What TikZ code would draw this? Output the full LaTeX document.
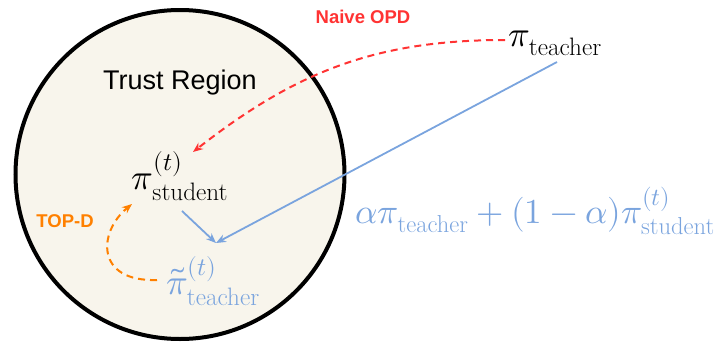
\documentclass[tikz,border=0pt]{standalone}
\usepackage{fontspec}
\usepackage{amsmath}
\usepackage{unicode-math}
\setmathfont{Latin Modern Math}
\setsansfont{Liberation Sans}
\usetikzlibrary{arrows.meta}
\definecolor{regionfill}{RGB}{248,245,236}
\definecolor{naivered}{RGB}{255,51,51}
\definecolor{topdorange}{RGB}{255,128,0}
\definecolor{mixblue}{RGB}{122,164,222}
\tikzset{
  region/.style={draw=black, line width=4pt, fill=regionfill},
  mathlbl/.style={inner sep=0pt, font=\fontsize{36}{42}\selectfont},
  boldlbl/.style={inner sep=0pt, font=\sffamily\bfseries\fontsize{18.5}{22}\selectfont},
  tip/.style={-{Stealth[length=10pt,width=8pt]}},
  dashedarrow/.style={tip, line width=2pt, dash pattern=on 7pt off 5pt},
  solidarrow/.style={tip, line width=1.8pt, draw=mixblue},
}
\begin{document}
\begin{tikzpicture}[x=1pt, y=-1pt]
\useasboundingbox (0,0) rectangle (715,343);
\draw[region] (180,174.5) circle[radius=164.5];
\node[inner sep=0pt, font=\sffamily\fontsize{27}{32}\selectfont] (tr) at (180,83) {Trust Region};
\node[mathlbl] (teacher) at (555,43) {$\pi_{\text{teacher}}$};
\node[mathlbl] (student) at (180,176) {$\pi^{(t)}_{\text{student}}$};
\node[mathlbl, text=mixblue] (tilde) at (213,281) {$\tilde{\pi}^{(t)}_{\text{teacher}}$};
\node[mathlbl, font=\fontsize{35}{40}\selectfont, text=mixblue] (mix) at (535,211) {$\alpha\pi_{\text{teacher}}+(1-\alpha)\pi^{(t)}_{\text{student}}$};
\node[boldlbl, text=naivered] (naive) at (363,17) {Naive OPD};
\node[boldlbl, text=topdorange] (topd) at (65,221) {TOP-D};
\coordinate (redstart) at (505,40);
\coordinate (redend) at (193,152);
\coordinate (bluestart) at (557,62);
\coordinate (meet) at (216,243);
\coordinate (stubstart) at (182,211);
\coordinate (orstart) at (157,280);
\coordinate (orend) at (132,204);
\draw[dashedarrow, naivered] (redstart) to[out=180, in=38] (redend);
\draw[solidarrow] (bluestart) -- (meet);
\draw[solidarrow] (stubstart) -- (meet);
\draw[dashedarrow, topdorange] (orstart) .. controls (95,282) and (98,232) .. (orend);
\end{tikzpicture}
\end{document}
